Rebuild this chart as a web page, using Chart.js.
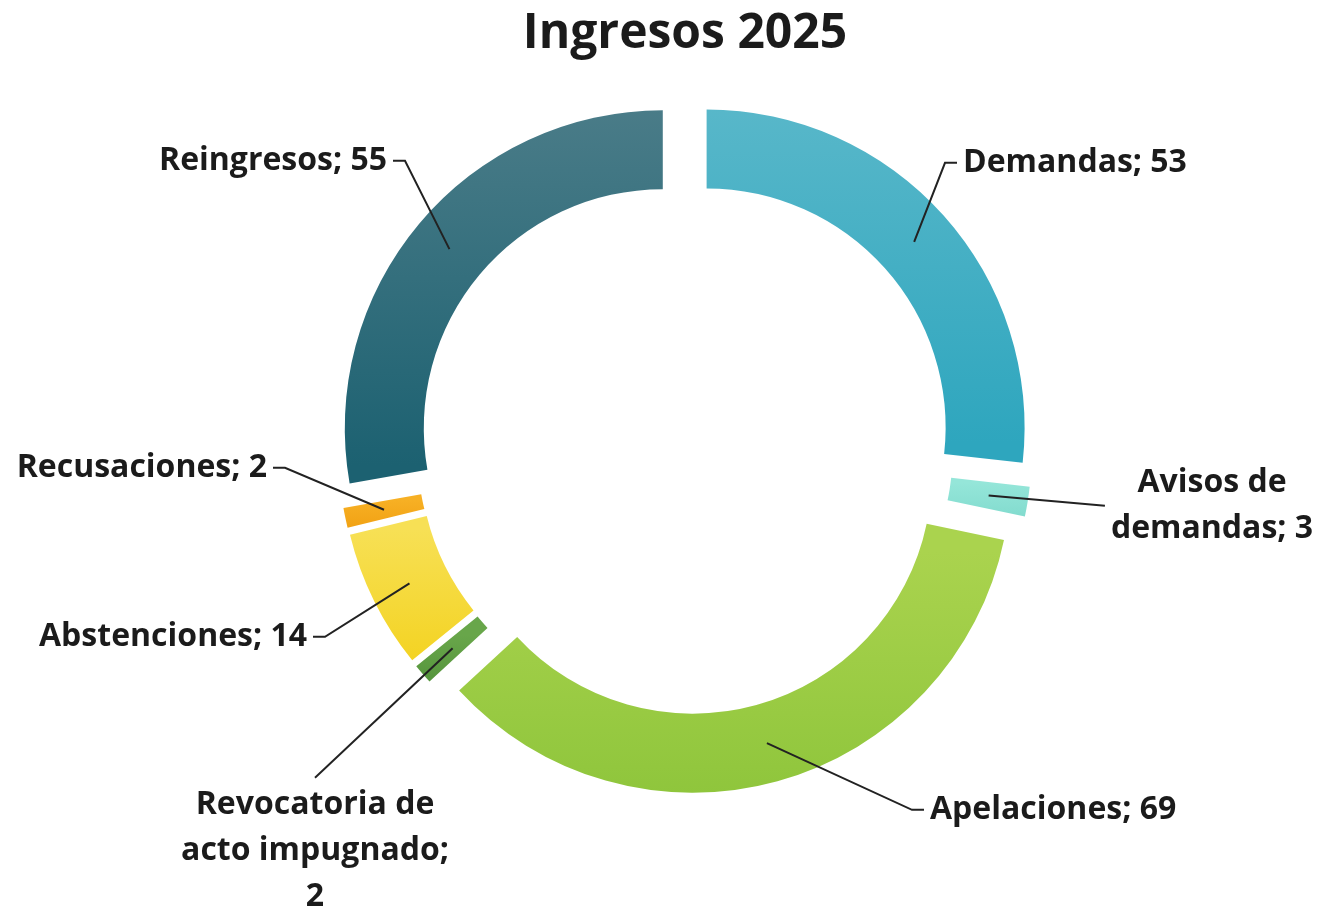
<!DOCTYPE html>
<html lang="es">
<head>
<meta charset="utf-8">
<title>Ingresos 2025</title>
<script src="https://cdn.jsdelivr.net/npm/chart.js@4.4.1/dist/chart.umd.min.js"></script>
<style>
  html, body { margin: 0; padding: 0; background: #fff; }
  #wrap { width: 1317px; height: 910px; position: relative; }
</style>
</head>
<body>
<div id="wrap"><canvas id="chart"></canvas></div>
<script>
// datos
const categories = ['Demandas', 'Avisos de demandas', 'Apelaciones', 'Revocatoria de acto impugnado', 'Abstenciones', 'Recusaciones', 'Reingresos'];
const ingresos = [53, 3, 69, 2, 14, 2, 55];

// colores (degradado de arriba hacia abajo en cada sector)
const colorsTop = ['#5ab8ca', '#95e6d9', '#aad34e', '#68a64a', '#f7e055', '#f7b024', '#4c7d89'];
const colorsBottom = ['#2ea6be', '#80dacd', '#8cc43a', '#4e8e37', '#f3d21e', '#f09f10', '#1c6171'];

// ubicacion de las etiquetas respecto al centro del anillo
const labelLayout = [
    { dx: 278, dy: -284, align: 'left', tick: 12 },
    { dx: 527, dy: 59, align: 'center', tick: 0, wrap: 230 },
    { dx: 245, dy: 363, align: 'left', tick: 12 },
    { dx: -370, dy: 404, align: 'center', wrap: 280, attach: 'top' },
    { dx: -378, dy: 190, align: 'right', tick: 12 },
    { dx: -418, dy: 21, align: 'right', tick: 12 },
    { dx: -298, dy: -286, align: 'right', tick: 12 }
];

const EXPLODE = 29;      // separacion de cada sector
const OUTER = 318;
const INNER = 239;
const LINE_H = 46;
const LABEL_FONT = 'bold 32px "Open Sans"';

const total = ingresos.reduce((a, b) => a + b, 0);

// degradado vertical ajustado al alto de cada sector
function sliceGradient(c) {
    const i = c.dataIndex;
    const area = c.chart.chartArea;
    if (i === undefined) return colorsTop[0];
    if (!area) return colorsTop[i];
    let before = 0;
    for (let k = 0; k < i; k++) before += ingresos[k];
    const a0 = -Math.PI / 2 + before / total * 2 * Math.PI;
    const a1 = a0 + ingresos[i] / total * 2 * Math.PI;
    const mid = (a0 + a1) / 2;
    const cy = (area.top + area.bottom) / 2 + Math.sin(mid) * EXPLODE;
    let top = Infinity, bot = -Infinity;
    for (let s = 0; s <= 24; s++) {
        const a = a0 + (a1 - a0) * s / 24;
        [INNER, OUTER].forEach(r => {
            const y = cy + Math.sin(a) * r;
            top = Math.min(top, y);
            bot = Math.max(bot, y);
        });
    }
    const g = c.chart.ctx.createLinearGradient(0, top, 0, bot);
    g.addColorStop(0, colorsTop[i]);
    g.addColorStop(1, colorsBottom[i]);
    return g;
}

// dibuja cada sector desplazado hacia afuera (como "explosion" de Excel)
const explodePlugin = {
    id: 'explode',
    beforeDatasetDraw(chart, args) {
        const ctx = chart.ctx;
        args.meta.data.forEach(arc => {
            const mid = (arc.startAngle + arc.endAngle) / 2;
            ctx.save();
            ctx.translate(Math.cos(mid) * EXPLODE, Math.sin(mid) * EXPLODE);
            arc.draw(ctx);
            ctx.restore();
        });
        return false;
    }
};

function wrapText(ctx, text, maxW) {
    if (!maxW) return [text];
    const words = text.split(' ');
    const lines = [];
    let cur = '';
    words.forEach(w => {
        const test = cur ? cur + ' ' + w : w;
        if (cur && ctx.measureText(test).width > maxW) {
            lines.push(cur);
            cur = w;
        } else {
            cur = test;
        }
    });
    if (cur) lines.push(cur);
    return lines;
}

// etiquetas con lineas guia
const labelsPlugin = {
    id: 'sliceLabels',
    afterDraw(chart) {
        const ctx = chart.ctx;
        const meta = chart.getDatasetMeta(0);
        ctx.save();
        ctx.font = LABEL_FONT;
        ctx.fillStyle = '#1b1b1b';
        ctx.strokeStyle = '#222';
        ctx.lineWidth = 2;
        ctx.textBaseline = 'middle';
        meta.data.forEach((arc, i) => {
            const L = labelLayout[i];
            const mid = (arc.startAngle + arc.endAngle) / 2;
            const rr = EXPLODE + (arc.innerRadius + arc.outerRadius) / 2;
            const ax = arc.x + Math.cos(mid) * rr;
            const ay = arc.y + Math.sin(mid) * rr;

            const lines = wrapText(ctx, categories[i] + '; ' + ingresos[i], L.wrap);
            const tx = arc.x + L.dx;
            const ty = arc.y + L.dy;
            const h = lines.length * LINE_H;
            const w = Math.max(...lines.map(s => ctx.measureText(s).width));

            let px, py, ex;
            if (L.attach === 'top') {
                px = tx;
                py = ty - h / 2 - 4;
                ex = px;
            } else {
                const left = L.align === 'left' ? tx : L.align === 'right' ? tx - w : tx - w / 2;
                py = ty;
                if (ax < left) {
                    px = left - 6;
                    ex = px - L.tick;
                } else {
                    px = left + w + 6;
                    ex = px + L.tick;
                }
            }
            ctx.beginPath();
            ctx.moveTo(px, py);
            ctx.lineTo(ex, py);
            ctx.lineTo(ax, ay);
            ctx.stroke();

            ctx.textAlign = L.align;
            lines.forEach((s, k) => {
                ctx.fillText(s, tx, ty - h / 2 + LINE_H * (k + 0.5));
            });
        });
        ctx.restore();
    }
};

const chart = new Chart(document.getElementById('chart'), {
    type: 'doughnut',
    data: {
        labels: categories,
        datasets: [{
            data: ingresos,
            backgroundColor: sliceGradient,
            borderWidth: 0
        }]
    },
    options: {
        responsive: true,
        maintainAspectRatio: false,
        animation: false,
        radius: OUTER,
        cutout: (INNER / OUTER * 100) + '%',
        layout: {
            padding: { left: 73, right: 20, top: 0, bottom: 90 }
        },
        plugins: {
            legend: { display: false },
            tooltip: { enabled: false },
            title: {
                display: true,
                text: 'Ingresos 2025',
                color: '#1b1b1b',
                font: { family: '"Open Sans"', size: 48, weight: 'bold', lineHeight: 1.2 },
                padding: { top: 6, bottom: 10 }
            }
        }
    },
    plugins: [explodePlugin, labelsPlugin]
});
</script>
</body>
</html>
